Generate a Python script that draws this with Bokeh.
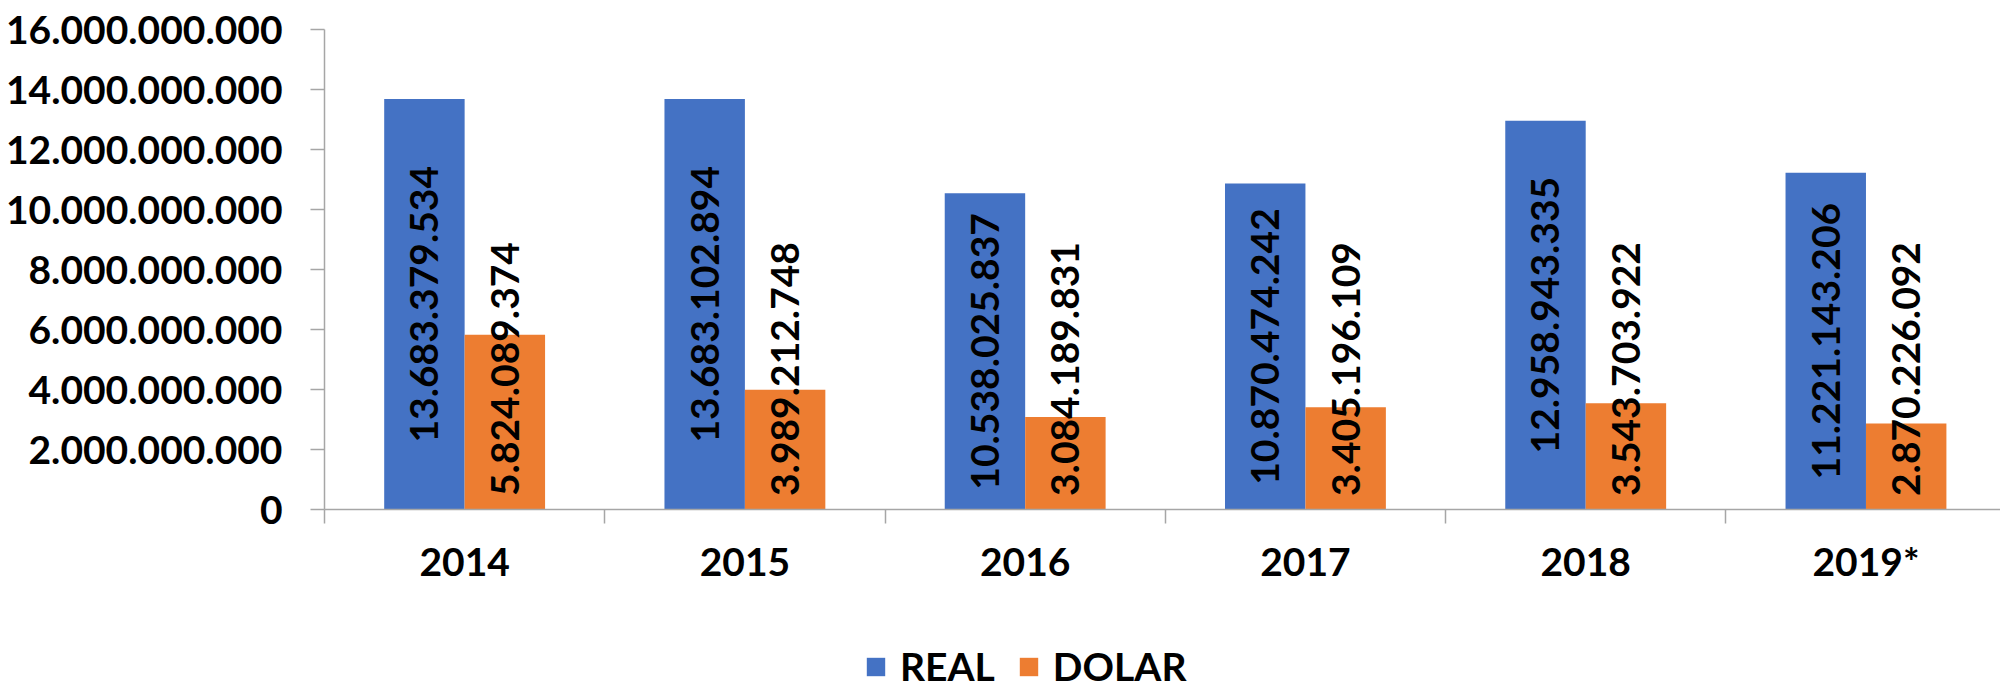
import math
from bokeh.plotting import figure
from bokeh.layouts import column
from bokeh.models import Range1d, FixedTicker, Label, Legend, LegendItem, ColumnDataSource
from bokeh.core.properties import value
from bokeh.embed import file_html
from bokeh.resources import INLINE

# ---- data ----
categories = ["2014", "2015", "2016", "2017", "2018", "2019*"]
real_values = [13683379534, 13683102894, 10538025837, 10870474242, 12958943335, 11221143206]
dolar_values = [5824089374, 3989212748, 3084189831, 3405196109, 3543703922, 2870226092]
y_ticks = [0, 2000000000, 4000000000, 6000000000, 8000000000,
           10000000000, 12000000000, 14000000000, 16000000000]
series_names = ["REAL", "DOLAR"]
title_text = "DUAS RODAS"

# ---- style ----
BLUE = "#4472C4"
ORANGE = "#ED7D31"
AXIS = "#A6A6A6"
FONT = "Lato"
FS = "39px"


def fmt(v):
    return f"{int(v):,}".replace(",", ".")


n = len(categories)
centers = [i + 1 for i in range(n)]
bw = 0.287
x_real = [c - bw / 2 for c in centers]
x_dolar = [c + bw / 2 for c in centers]

# ---- main chart ----
p = figure(width=2000, height=600, output_backend="svg", toolbar_location=None,
           x_range=Range1d(0.5, 6.48), y_range=Range1d(0, 16000000000),
           min_border_left=324, min_border_right=0, min_border_top=29, min_border_bottom=91)
p.xgrid.visible = False
p.ygrid.visible = False
p.outline_line_color = None
p.background_fill_color = "white"
p.border_fill_color = "white"

src_r = ColumnDataSource(dict(x=x_real, top=real_values,
                              label=[fmt(v) for v in real_values],
                              ymid=[v / 2 for v in real_values]))
src_d = ColumnDataSource(dict(x=x_dolar, top=dolar_values,
                              label=[fmt(v) for v in dolar_values]))

p.vbar(x="x", top="top", bottom=0, width=bw, source=src_r,
       fill_color=BLUE, line_color=None)
p.vbar(x="x", top="top", bottom=0, width=bw, source=src_d,
       fill_color=ORANGE, line_color=None)

p.text(x="x", y="ymid", text="label", source=src_r, angle=math.pi / 2,
       text_font=value(FONT), text_font_style="bold", text_font_size=FS,
       text_align="center", text_baseline="middle", text_color="black")
p.text(x="x", y=450000000, text="label", source=src_d, angle=math.pi / 2,
       text_font=value(FONT), text_font_style="bold", text_font_size=FS,
       text_align="left", text_baseline="middle", text_color="black")

# x axis
xa = p.xaxis[0]
xa.ticker = FixedTicker(ticks=centers, minor_ticks=[c - 0.5 for c in centers] + [n + 0.5])
xa.major_label_overrides = {c: cat for c, cat in zip(centers, categories)}
xa.major_tick_line_color = None
xa.major_tick_out = 0
xa.major_tick_in = 0
xa.minor_tick_out = 14
xa.minor_tick_in = 0
xa.minor_tick_line_color = AXIS
xa.minor_tick_line_width = 1.5
xa.axis_line_color = AXIS
xa.axis_line_width = 1.5
xa.major_label_standoff = 14
xa.major_label_text_font = FONT
xa.major_label_text_font_style = "bold"
xa.major_label_text_font_size = FS
xa.major_label_text_color = "black"

# y axis
ya = p.yaxis[0]
ya.ticker = FixedTicker(ticks=y_ticks, minor_ticks=[])
ya.major_label_overrides = {t: fmt(t) for t in y_ticks}
ya.major_tick_out = 14
ya.major_tick_in = 0
ya.major_tick_line_color = AXIS
ya.major_tick_line_width = 1.5
ya.minor_tick_line_color = None
ya.axis_line_color = AXIS
ya.axis_line_width = 1.5
ya.major_label_standoff = 28
ya.major_label_text_font = FONT
ya.major_label_text_font_style = "bold"
ya.major_label_text_font_size = FS
ya.major_label_text_color = "black"

title = Label(x=3.153, y=16670000000, text=title_text, text_align="center",
              text_baseline="alphabetic", text_font="Liberation Sans",
              text_font_style="bold", text_font_size="41px", text_color="black")
p.add_layout(title)

# ---- legend strip below the chart (its bars lie below its view) ----
lg = figure(width=2000, height=87, output_backend="svg", toolbar_location=None,
            x_range=Range1d(0.5, 6.48), y_range=Range1d(20000000000, 30000000000),
            x_axis_type=None, y_axis_type=None,
            min_border_left=0, min_border_right=0, min_border_top=0, min_border_bottom=0)
lg.xgrid.visible = False
lg.ygrid.visible = False
lg.outline_line_color = None
lg.border_fill_color = "white"
lg.background_fill_color = "white"
k1 = lg.vbar(x="x", top="top", bottom=0, width=bw, source=src_r,
             fill_color=BLUE, line_color=None)
k2 = lg.vbar(x="x", top="top", bottom=0, width=bw, source=src_d,
             fill_color=ORANGE, line_color=None)

legend = Legend(items=[LegendItem(label=series_names[0], renderers=[k1], index=0),
                       LegendItem(label=series_names[1], renderers=[k2], index=0)],
                orientation="horizontal", location=(540, -2),
                glyph_width=23, glyph_height=23, label_standoff=13, spacing=22,
                padding=0, margin=0, border_line_color=None,
                background_fill_alpha=0,
                label_text_font=FONT, label_text_font_style="bold",
                label_text_font_size=FS, label_text_color="black")
lg.add_layout(legend, "center")

layout = column(p, lg, spacing=0)

open("out.html", "w").write(file_html(layout, INLINE))
